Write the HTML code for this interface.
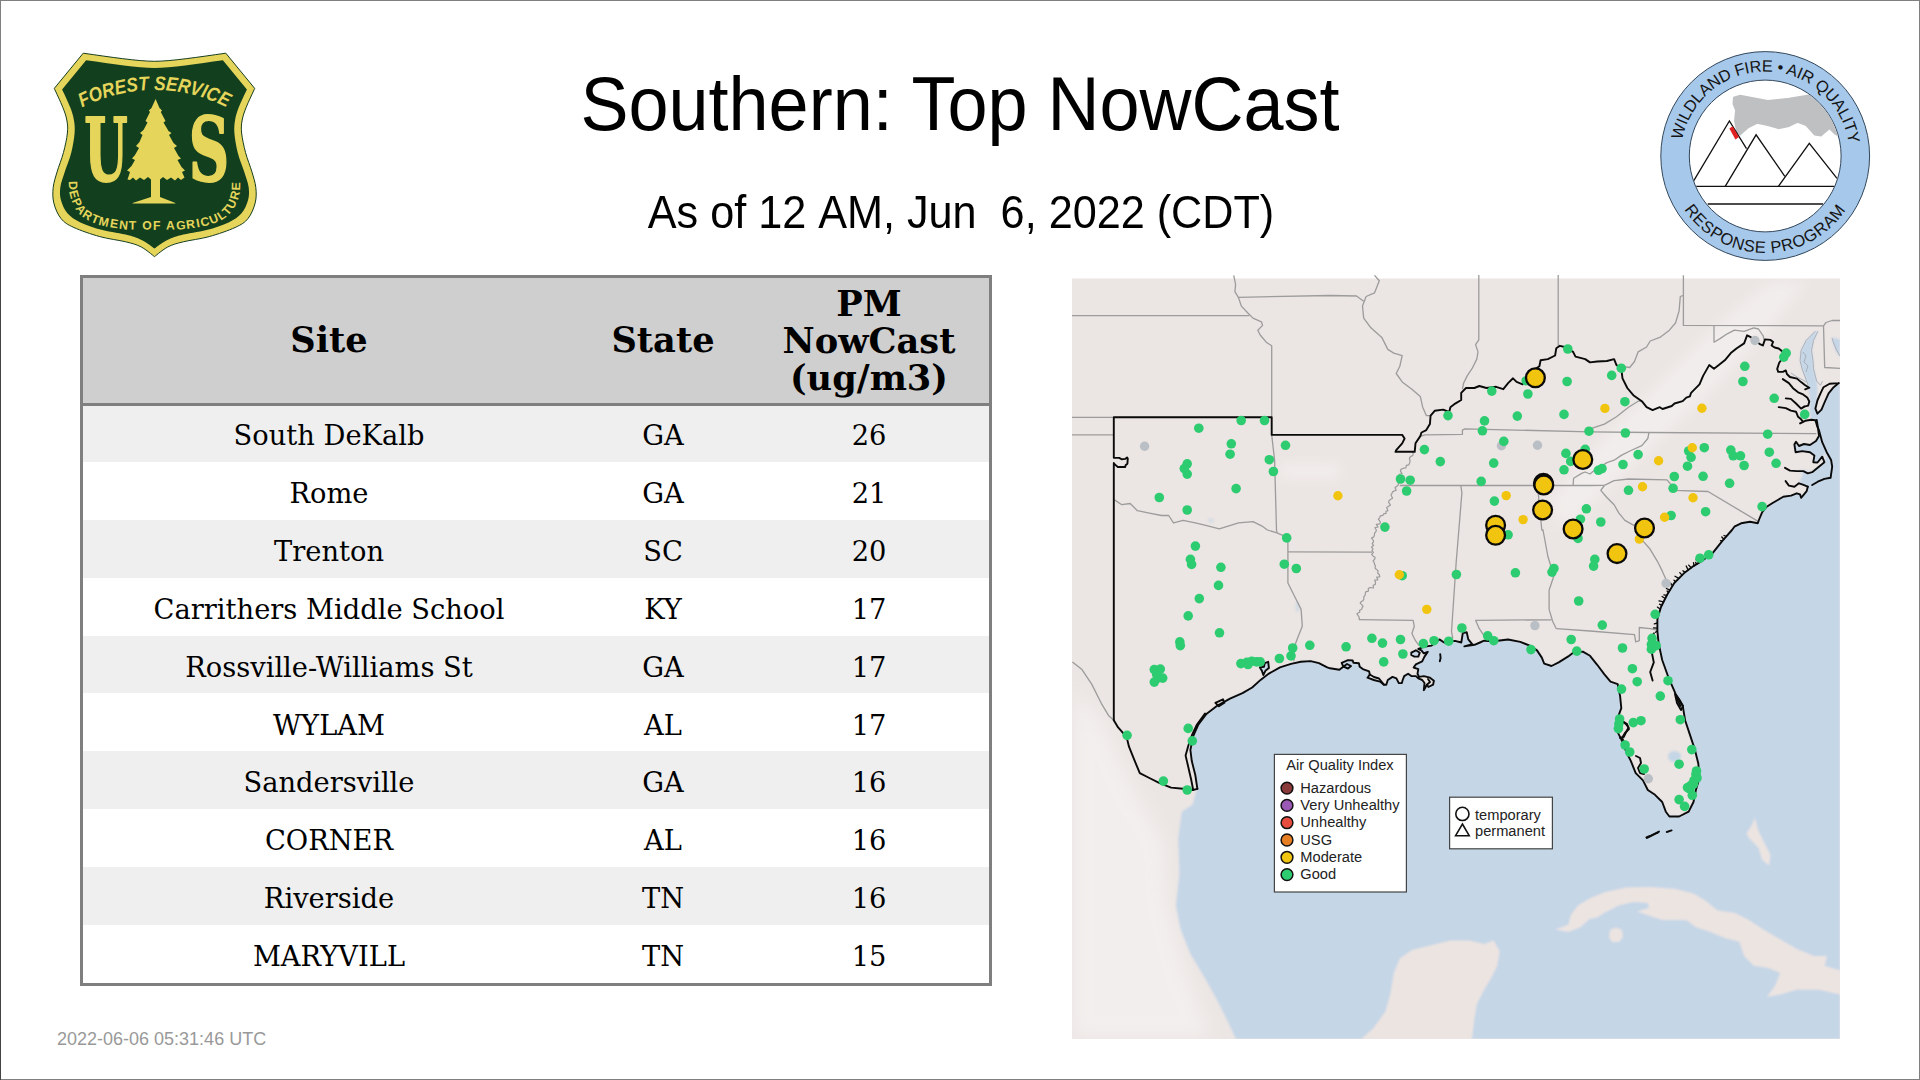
<!DOCTYPE html>
<html lang="en">
<head>
<meta charset="utf-8">
<title>Southern: Top NowCast</title>
<style>
html,body{margin:0;padding:0;background:#fff;}
body{width:1920px;height:1080px;position:relative;overflow:hidden;font-family:"Liberation Sans",sans-serif;}
#frame{position:absolute;left:0;top:0;width:1918px;height:1078px;border:1px solid #808080;border-left-color:#808080;}
#frameL{position:absolute;left:0;top:80px;width:1px;height:1000px;background:#444;}
#title{position:absolute;left:0;top:63px;width:1920px;text-align:center;font-size:72px;line-height:84px;color:#000;white-space:pre;transform:scaleY(1.055);transform-origin:50% 67px;}
#sub{font-kerning:none;position:absolute;left:1px;top:188px;width:1920px;text-align:center;font-size:43.2px;line-height:50px;color:#000;white-space:pre;transform:scaleY(1.055);transform-origin:50% 40px;}
#stamp{position:absolute;left:57px;top:1029px;font-size:18px;line-height:20px;color:#999;white-space:pre;}
#tbl{position:absolute;left:80px;top:275px;width:906px;height:705px;border:3px solid #7f7f7f;background:#fff;font-family:"DejaVu Serif",serif;color:#000;}
#tbl .hd{position:absolute;left:0;top:0;width:906px;height:126px;background:#cfcfcf;}
#tbl .sep{position:absolute;left:0;top:125px;width:906px;height:3px;background:#7f7f7f;}
#tbl .r{position:absolute;left:0;width:906px;height:57.9px;}
#tbl .r.o{background:#efefef;}
#tbl .c{position:absolute;top:0;height:100%;text-align:center;white-space:nowrap;}
#tbl .c1{left:0;width:492px;}
#tbl .hd .c1,#tbl .hd .c2{padding-bottom:3px;box-sizing:border-box;}
#tbl .hd .c3{padding-bottom:2px;box-sizing:border-box;}
#tbl .c2{left:492px;width:176px;}
#tbl .c3{left:668px;width:236px;}
#tbl .r .c{font-size:27.3px;line-height:57.9px;padding-top:3px;}
#tbl .hd .c{font-weight:bold;font-size:35.2px;line-height:37px;display:flex;align-items:center;justify-content:center;}
</style>
</head>
<body>
<div id="frame"></div><div id="frameL"></div>

<div id="title">Southern: Top NowCast</div>
<div id="sub">As of 12 AM, Jun  6, 2022 (CDT)</div>

<div id="tbl">
  <div class="hd">
    <div class="c c1">Site</div>
    <div class="c c2">State</div>
    <div class="c c3">PM<br>NowCast<br>(ug/m3)</div>
  </div>
  <div class="r o" style="top:126px"><div class="c c1">South DeKalb</div><div class="c c2">GA</div><div class="c c3">26</div></div>
  <div class="r" style="top:183.9px"><div class="c c1">Rome</div><div class="c c2">GA</div><div class="c c3">21</div></div>
  <div class="r o" style="top:241.8px"><div class="c c1">Trenton</div><div class="c c2">SC</div><div class="c c3">20</div></div>
  <div class="r" style="top:299.7px"><div class="c c1">Carrithers Middle School</div><div class="c c2">KY</div><div class="c c3">17</div></div>
  <div class="r o" style="top:357.6px"><div class="c c1">Rossville-Williams St</div><div class="c c2">GA</div><div class="c c3">17</div></div>
  <div class="r" style="top:415.5px"><div class="c c1">WYLAM</div><div class="c c2">AL</div><div class="c c3">17</div></div>
  <div class="r o" style="top:473.4px"><div class="c c1">Sandersville</div><div class="c c2">GA</div><div class="c c3">16</div></div>
  <div class="r" style="top:531.3px"><div class="c c1">CORNER</div><div class="c c2">AL</div><div class="c c3">16</div></div>
  <div class="r o" style="top:589.2px"><div class="c c1">Riverside</div><div class="c c2">TN</div><div class="c c3">16</div></div>
  <div class="r" style="top:647.1px"><div class="c c1">MARYVILL</div><div class="c c2">TN</div><div class="c c3">15</div></div>
  <div class="sep"></div>
</div>

<div id="stamp">2022-06-06 05:31:46 UTC</div>

<svg id="map" width="1920" height="1080" viewBox="0 0 1920 1080" style="position:absolute;left:0;top:0">
<defs><clipPath id="mc"><rect x="1072" y="278.5" width="768" height="760.5"/></clipPath><clipPath id="mc2"><rect x="1072" y="275" width="768" height="764"/></clipPath><filter id="bl" x="-5%" y="-5%" width="110%" height="110%"><feGaussianBlur stdDeviation="0.9"/></filter><filter id="bl2" x="-20%" y="-20%" width="140%" height="140%"><feGaussianBlur stdDeviation="4"/></filter></defs>
<rect x="1072" y="278.5" width="768" height="760.5" fill="#ebe5e3"/>
<g clip-path="url(#mc)">
<filter id="rb0" x="-30%" y="-30%" width="160%" height="160%"><feGaussianBlur stdDeviation="9"/></filter>
<polygon points="1072.0,690.0 1100.0,715.0 1135.0,790.0 1165.0,840.0 1168.0,900.0 1183.0,960.0 1212.0,1039.0 1072.0,1039.0" fill="#ffffff" opacity="0.38" filter="url(#rb0)"/>
<filter id="rb1" x="-30%" y="-30%" width="160%" height="160%"><feGaussianBlur stdDeviation="7"/></filter>
<polygon points="1545.0,505.0 1600.0,440.0 1660.0,380.0 1720.0,320.0 1770.0,280.0 1810.0,280.0 1770.0,330.0 1705.0,400.0 1645.0,455.0 1592.0,505.0 1565.0,528.0" fill="#ffffff" opacity="0.32" filter="url(#rb1)"/>
<filter id="rb2" x="-30%" y="-30%" width="160%" height="160%"><feGaussianBlur stdDeviation="6"/></filter>
<polygon points="1280.0,462.0 1340.0,462.0 1340.0,480.0 1280.0,480.0" fill="#ffffff" opacity="0.3" filter="url(#rb2)"/>
<g filter="url(#bl)">
<polygon points="1236.0,1039.0 1226.5,1018.7 1216.9,999.4 1204.8,977.8 1190.4,953.7 1180.7,929.6 1175.9,905.5 1179.5,874.3 1178.3,838.1 1181.9,811.7 1192.8,804.4 1196.5,790.0 1197.4,788.9 1195.3,775.0 1191.8,761.1 1190.4,750.0 1193.2,736.1 1198.1,725.0 1206.4,713.9 1217.5,705.6 1230.0,698.6 1242.5,693.1 1252.2,687.5 1260.6,679.9 1268.9,673.6 1280.0,667.4 1291.1,663.9 1300.8,661.8 1310.6,661.1 1318.9,663.2 1327.2,667.4 1330.0,668.3 1339.4,669.8 1343.3,666.7 1341.7,662.8 1348.0,660.1 1352.7,660.5 1353.4,662.8 1358.9,663.2 1359.7,666.7 1362.8,669.1 1369.1,671.4 1369.8,674.5 1367.5,677.7 1373.8,680.0 1380.0,681.6 1383.9,684.7 1386.3,684.7 1387.8,680.0 1392.5,676.9 1396.4,678.4 1398.8,683.1 1401.9,683.1 1402.7,680.0 1404.2,676.1 1408.1,673.8 1411.3,676.1 1415.9,676.1 1418.3,678.4 1422.2,680.0 1424.5,683.0 1423.8,690.2 1426.9,684.7 1428.4,687.0 1433.1,684.7 1433.9,680.8 1430.0,677.7 1423.8,676.1 1419.1,676.9 1417.5,673.8 1418.3,669.1 1413.6,667.5 1415.9,664.4 1422.2,661.3 1424.5,656.6 1427.7,651.9 1423.8,653.4 1421.4,650.3 1418.3,648.8 1423.8,646.8 1431.6,645.6 1439.4,639.4 1444.1,642.5 1455.0,640.9 1461.3,642.5 1462.8,633.1 1466.7,632.3 1468.3,639.4 1472.2,644.1 1464.4,646.4 1474.5,644.8 1480.0,642.5 1484.1,640.7 1493.7,641.2 1508.1,639.5 1520.2,641.9 1529.8,645.6 1537.0,650.4 1541.8,657.6 1544.2,663.6 1551.5,666.0 1558.7,662.4 1568.3,656.4 1573.1,652.8 1582.8,651.6 1590.0,655.8 1597.2,664.8 1604.4,674.4 1610.5,681.7 1617.7,684.1 1620.1,696.1 1621.3,708.1 1617.7,717.8 1616.5,729.8 1621.3,739.4 1626.1,751.5 1630.9,761.1 1635.7,773.1 1643.0,780.4 1647.8,790.0 1655.0,794.8 1662.2,802.0 1665.8,811.7 1669.4,816.5 1679.1,816.5 1688.7,811.7 1693.5,802.0 1695.9,790.0 1699.5,778.0 1698.3,763.5 1694.7,749.1 1689.9,734.6 1685.1,720.2 1682.7,705.7 1675.5,693.7 1668.2,676.8 1662.2,660.0 1658.6,643.1 1657.4,631.1 1657.4,619.1 1661.0,607.0 1667.0,595.0 1674.3,583.0 1683.9,573.3 1693.5,566.1 1703.1,560.1 1712.8,552.9 1722.4,540.8 1732.0,530.0 1734.4,526.7 1741.1,523.3 1750.0,521.7 1757.8,523.3 1758.9,520.0 1762.2,512.2 1766.7,506.7 1772.2,503.3 1777.8,500.0 1783.3,496.7 1791.1,495.6 1796.7,493.3 1800.0,494.4 1801.1,497.8 1806.7,491.1 1807.8,486.7 1812.2,485.0 1817.8,481.7 1824.4,478.9 1830.6,477.8 1832.2,466.7 1831.1,460.0 1826.7,452.2 1822.2,442.2 1818.9,430.0 1817.4,426.9 1816.7,420.0 1815.4,420.3 1811.3,419.8 1817.4,413.7 1821.5,409.6 1824.5,402.5 1828.6,393.3 1833.7,387.2 1840.0,382.5 1840.0,1039.0" fill="#c5d6e7"/>
<polygon points="1815.4,331.2 1806.2,340.4 1801.1,350.6 1800.1,360.7 1802.1,368.9 1805.2,377.0 1808.2,385.2 1809.8,397.4 1809.8,409.6 1810.8,419.8 1817.9,416.8 1815.9,407.6 1817.6,391.3 1816.6,381.1 1813.5,368.9 1813.0,360.7 1811.5,350.6 1813.5,340.4 1817.9,331.2" fill="#c5d6e7"/>
<polygon points="1807.8,486.7 1802.0,484.5 1798.9,483.3 1803.3,473.3 1796.7,471.1 1803.0,470.0 1812.2,472.2 1818.9,466.7 1824.4,462.2 1826.7,452.2 1831.1,460.0 1832.2,466.7 1830.6,477.8 1824.4,478.9 1817.8,481.7 1812.2,485.0" fill="#c5d6e7"/>
<polygon points="1796.0,441.7 1799.0,446.0 1804.0,444.0 1810.0,445.0 1816.0,441.0 1819.0,436.0 1817.5,424.0 1818.9,430.0 1822.2,442.2 1826.7,452.2 1822.2,456.7 1817.5,462.5 1813.3,462.2 1814.4,455.6 1810.0,452.2 1802.2,451.1 1795.6,452.2 1794.4,444.4" fill="#c5d6e7"/>
<polygon points="1831.7,337.3 1840.0,339.5 1840.0,357.0 1835.7,350.6 1833.2,343.4" fill="#c5d6e7"/>
<polygon points="1411.3,652.7 1415.9,650.3 1419.8,652.7 1418.3,656.6 1414.4,656.6 1411.3,655.0" fill="#c5d6e7"/>
<polygon points="1259.9,667.4 1261.9,670.8 1263.3,675.0 1265.4,670.8 1268.9,668.1 1268.2,661.8 1264.7,663.2 1264.0,666.7" fill="#c5d6e7"/>
<polygon points="1361.3,1039.0 1373.3,1028.3 1385.4,1011.5 1390.2,994.6 1393.8,973.0 1399.8,958.5 1411.9,950.1 1431.1,945.3 1450.4,940.5 1469.6,940.5 1484.1,944.1 1493.7,940.5 1499.7,951.3 1497.3,965.7 1491.3,977.8 1484.1,989.8 1476.8,1004.2 1474.4,1018.7 1472.0,1039.0" fill="#ece4e1"/>
<polygon points="1555.1,929.6 1568.3,924.8 1570.7,915.2 1577.9,905.5 1590.0,898.3 1604.4,892.3 1626.1,887.5 1650.2,887.0 1674.3,888.7 1693.5,893.5 1705.6,900.7 1717.6,910.4 1734.4,912.8 1748.9,920.0 1763.3,929.6 1780.2,939.3 1797.0,948.9 1813.9,956.1 1827.1,956.1 1824.7,965.7 1840.0,970.6 1840.0,994.6 1818.7,989.8 1797.0,989.8 1780.2,994.6 1766.9,997.0 1775.4,985.0 1780.2,973.0 1768.1,968.1 1753.7,965.7 1744.1,956.1 1739.3,941.7 1724.8,938.1 1710.4,932.0 1695.9,927.2 1686.3,920.0 1662.2,920.0 1647.8,915.2 1636.9,911.6 1649.0,908.0 1647.8,903.1 1633.3,901.9 1618.9,905.5 1604.4,912.8 1597.2,917.6 1590.0,918.8 1580.4,927.2 1568.3,932.0" fill="#ece4e1"/>
<polygon points="1754.9,817.7 1758.5,830.9 1765.7,845.4 1770.5,855.0 1769.3,865.8 1762.1,859.8 1758.5,847.8 1748.9,838.1 1746.5,833.3 1751.3,826.1" fill="#ece4e1"/>
<polygon points="1610.0,930.0 1616.0,927.5 1622.0,930.0 1623.0,937.0 1619.0,942.0 1612.0,942.0 1609.0,937.0" fill="#ece4e1"/>
<ellipse cx="1674.5" cy="756.5" rx="6.5" ry="5.5" fill="#c5d6e7" opacity="1"/>
<ellipse cx="1210.8" cy="520.4" rx="3" ry="2" fill="#c5d6e7" opacity="0.6"/>
<ellipse cx="1297.5" cy="607" rx="2" ry="5" fill="#c5d6e7" opacity="0.6"/>
</g>
</g>
<g clip-path="url(#mc2)" fill="none" stroke="#9c9c9c" stroke-width="1.3" stroke-linejoin="round">
<polyline points="1072.0,315.7 1249.3,315.7"/>
<polyline points="1233.7,275.3 1235.6,284.4 1234.9,291.7 1238.5,297.7 1241.4,306.1 1248.1,313.3 1253.0,318.1 1261.4,321.8 1262.6,325.4 1257.8,330.2 1260.2,335.0 1266.2,342.2 1271.7,345.8 1271.7,417.3"/>
<polyline points="1238.5,297.3 1330.0,295.5 1356.5,296.0 1363.7,301.3"/>
<polyline points="1072.0,417.3 1113.3,417.3"/>
<polyline points="1072.0,434.9 1113.3,434.9"/>
<polyline points="1271.7,434.9 1274.6,460.2 1276.5,530.0 1277.0,532.9"/>
<polyline points="1114.5,499.9 1121.8,504.7 1130.2,503.5 1137.4,510.7 1149.4,513.1 1161.5,515.5 1168.7,515.5 1173.5,522.8 1183.1,520.4 1195.2,522.8 1204.8,525.2 1219.3,528.8 1238.5,522.8 1253.0,521.6 1262.6,526.4 1267.4,530.0 1277.0,532.9 1286.7,537.2 1287.9,538.0"/>
<polyline points="1287.9,537.0 1287.9,583.0 1293.9,595.0 1301.1,609.4 1302.3,626.3 1297.5,638.3 1293.9,648.0 1293.9,661.2"/>
<polyline points="1287.9,551.9 1372.1,552.1"/>
<polyline points="1374.5,275.3 1379.3,280.8 1374.5,292.9 1366.1,296.5 1362.5,306.1 1363.7,318.1 1370.9,327.8 1381.8,337.4 1387.8,349.4 1393.8,353.1 1402.2,355.5 1399.8,366.3 1396.2,373.5 1402.2,381.9 1411.9,389.2 1420.3,396.4 1422.7,407.2 1426.3,415.6 1430.6,415.6"/>
<polyline points="1478.8,275.0 1478.8,339.8 1475.6,344.6 1478.0,351.9 1476.8,359.1 1472.0,368.7 1467.2,375.9 1463.6,383.1 1462.4,389.2"/>
<polyline points="1558.2,275.0 1558.2,346.0"/>
<polyline points="1421.0,436.0 1425.1,434.9 1462.4,434.4 1462.4,430.1 1464.8,428.9 1590.0,431.8 1649.0,432.5 1816.3,433.7"/>
<polyline points="1399.8,485.5 1590.0,485.5 1604.4,485.3"/>
<polyline points="1460.8,485.5 1461.9,492.6 1456.2,562.0 1451.5,631.5 1452.8,638.3"/>
<polyline points="1537.5,485.5 1541.8,530.0 1543.0,530.0 1547.9,556.5 1553.9,575.7 1549.1,590.2 1549.1,609.4 1552.7,621.5 1556.3,628.7"/>
<polyline points="1358.9,619.6 1413.1,620.3 1414.3,626.3 1411.9,633.5 1415.5,640.7 1419.1,645.6"/>
<polyline points="1486.5,640.7 1484.1,635.9 1479.3,628.7 1475.6,620.3 1551.5,619.8"/>
<polyline points="1556.3,628.7 1590.0,631.0 1634.5,634.7 1635.7,641.9 1639.3,640.7 1639.3,627.5 1650.2,628.7 1657.0,630.0"/>
<polyline points="1573.1,485.5 1573.6,478.2 1581.6,473.4 1585.0,472.0 1590.0,474.0 1593.6,471.0 1599.6,467.4 1606.9,462.6 1614.1,460.2 1621.3,455.4 1630.9,450.5 1641.8,445.7 1647.8,438.5 1649.0,432.5"/>
<polyline points="1590.0,428.9 1604.4,424.1 1616.5,416.8 1628.5,407.2 1638.1,401.2 1641.8,401.2"/>
<polyline points="1604.4,485.3 1614.1,480.6 1628.5,479.0 1667.0,479.9 1670.6,484.2 1674.3,490.3 1708.0,491.5 1758.5,521.6"/>
<polyline points="1604.4,485.5 1600.8,490.3 1606.9,497.5 1614.1,504.7 1618.9,513.1 1624.9,520.4 1635.7,526.4 1641.8,539.6 1650.2,549.3 1657.4,561.3 1662.2,570.9 1667.0,581.8 1672.0,586.0"/>
<polyline points="1683.4,275.3 1683.4,325.4 1823.5,325.8"/>
<polyline points="1823.5,325.8 1826.0,322.5 1832.0,320.5 1840.0,320.5"/>
<polyline points="1823.5,325.8 1824.7,367.5 1840.0,368.3"/>
<polyline points="1621.3,366.3 1629.7,367.5 1634.5,361.5 1638.1,351.9 1646.6,347.0 1650.2,341.0 1659.8,337.4 1669.4,330.2 1675.5,323.0 1679.1,310.9 1680.3,296.5 1683.4,295.3"/>
<polyline points="1714.0,325.8 1714.0,342.2 1720.0,338.6 1727.2,333.8 1734.4,330.2 1744.1,331.4 1753.7,327.8 1758.5,329.0 1763.3,336.2 1764.0,340.0"/>
<polyline points="1072.4,661.9 1082.0,669.6 1091.7,684.1 1101.3,703.3 1108.5,715.4 1113.8,720.2"/>
<polyline points="1815.4,331.2 1806.2,340.4 1801.1,350.6 1800.1,360.7 1802.1,368.9 1805.2,377.0 1808.2,385.2" stroke="#a4acb4" stroke-width="0.9"/>
<polyline points="1817.9,331.2 1813.5,340.4 1811.5,350.6 1813.0,360.7 1813.5,368.9 1816.6,381.1 1820.5,385.2 1822.5,381.1" stroke="#a4acb4" stroke-width="0.9"/>
<polyline points="1790.9,373.0 1797.0,377.0 1803.1,380.1 1806.2,382.1" stroke="#a4acb4" stroke-width="0.9"/>
<polyline points="1803.0,352.0 1806.0,356.0 1804.0,362.0 1808.0,366.0 1806.0,372.0" stroke="#a4acb4" stroke-width="0.9"/>
<polyline points="1832.0,338.0 1834.0,344.0 1836.5,350.0 1840.0,356.0" stroke="#a4acb4" stroke-width="0.9"/>
<polyline points="1412.6,451.0 1413.2,453.5 1412.8,455.5 1410.5,456.6 1409.4,458.3 1410.0,460.7 1409.7,462.9 1408.8,464.8 1406.3,465.3 1406.0,467.8 1403.5,468.2 1400.9,469.4 1400.4,471.1 1402.0,473.5 1399.2,474.5 1400.8,476.9 1398.4,478.0 1399.8,480.3 1400.2,482.4 1398.3,483.5 1398.2,485.3 1396.4,486.5 1395.0,487.8 1396.2,490.1 1394.2,491.0 1392.5,491.9 1391.9,493.6 1391.0,495.0 1392.6,498.2 1391.2,499.0 1389.1,500.5 1388.6,502.4 1390.4,504.9 1388.2,506.4 1386.7,507.5 1387.9,510.6 1386.0,511.2 1386.0,513.4 1383.7,513.8 1382.9,515.4 1380.5,515.8 1379.7,517.6 1378.4,519.1 1380.3,521.9 1380.1,523.8 1376.3,524.3 1378.1,527.0 1375.0,527.7 1376.4,530.2 1375.7,531.9 1374.5,533.4 1374.4,535.2 1373.8,536.9 1371.5,538.1 1373.4,540.5 1373.5,541.9 1372.2,543.7 1373.6,545.3 1371.5,547.3 1373.0,548.9 1371.9,550.7 1373.5,552.3 1371.6,554.3 1373.0,555.9 1375.2,557.4 1374.6,559.2 1373.1,561.0 1374.3,562.7 1374.5,564.4 1375.4,565.6 1375.1,568.0 1376.4,569.5 1378.1,570.7 1377.7,573.2 1379.3,574.5 1379.8,576.8 1376.7,577.1 1377.8,579.8 1374.7,580.1 1375.5,582.5 1375.3,584.4 1373.2,585.3 1373.4,588.0 1370.0,587.5 1368.3,588.5 1368.4,591.1 1365.6,591.8 1365.3,593.6 1365.0,595.5 1363.7,596.8 1363.9,598.9 1363.2,600.5 1361.2,601.7 1360.2,603.2 1363.1,606.1 1362.1,607.6 1361.7,609.3 1359.6,610.3 1359.8,611.9 1357.0,613.8 1358.3,615.8 1359.4,617.7 1358.9,619.6" stroke-width="1.2"/>
</g>
<g clip-path="url(#mc)" fill="none" stroke="#0a0a0a" stroke-width="1.9" stroke-linejoin="round" stroke-linecap="round">
<polyline points="1113.8,720.2 1113.8,463.0 1114.8,464.4 1117.8,467.0 1125.2,467.0 1125.6,465.2 1127.4,463.7 1127.8,458.5 1127.0,457.4 1125.2,458.9 1121.5,459.3 1119.3,457.9 1113.8,457.8 1113.8,417.3 1271.7,417.3 1271.7,434.9 1402.2,434.9 1404.6,438.5 1402.2,443.3 1396.2,450.1 1395.5,451.8 1414.7,451.8 1415.5,443.3 1420.3,436.1 1421.5,432.5 1426.3,430.1 1429.9,424.1 1430.6,415.6 1434.7,410.8 1443.1,409.6 1449.2,412.0 1450.4,407.2 1455.2,403.6 1461.2,400.0 1461.2,392.8 1466.0,388.0 1474.4,388.0 1479.3,386.0 1486.5,388.0 1496.1,386.8 1503.3,389.2 1508.1,383.1 1513.0,378.3 1516.6,381.9 1522.6,384.3 1526.2,377.1 1532.2,371.1 1539.4,366.3 1540.6,360.3 1547.9,359.1 1555.1,355.5 1556.3,348.2 1559.9,345.8 1564.7,347.0 1573.1,351.9 1575.5,356.7 1585.2,359.1 1590.0,362.4 1597.2,361.5 1606.9,361.0 1614.1,359.1 1616.5,365.1 1621.3,368.7 1622.5,378.3 1627.3,388.0 1633.3,395.2 1641.8,401.2 1646.6,407.2 1652.6,410.1 1659.8,407.2 1662.5,409.0 1671.8,406.0 1674.5,403.5 1682.7,401.2 1686.3,397.6 1689.9,396.4 1691.1,392.8 1699.5,384.3 1703.1,375.9 1709.2,365.1 1714.0,368.7 1718.8,365.1 1724.8,360.3 1730.8,353.1 1736.8,348.2 1744.1,343.4 1747.1,335.3 1750.2,336.8 1753.0,339.0 1760.4,344.4 1762.9,345.5 1765.0,339.4 1770.6,339.9 1773.1,341.9 1771.6,345.5 1774.6,347.5 1778.7,348.5 1781.8,351.1 1785.0,355.0 1779.2,362.8 1777.2,368.9 1778.2,371.9 1782.8,371.9 1785.8,370.4 1786.9,374.0 1789.9,377.0 1797.0,378.6 1801.1,382.1 1805.2,385.2 1809.3,387.7 1805.2,389.3"/>
<polyline points="1782.8,379.1 1788.9,383.1 1793.0,388.2 1798.1,392.3 1803.1,394.4 1807.2,397.4 1809.3,401.5 1808.2,405.6 1804.2,406.6"/>
<polyline points="1785.8,398.4 1790.9,398.9 1796.0,403.5 1801.1,408.6 1804.2,406.6"/>
<polyline points="1778.7,407.1 1785.8,408.1 1790.9,410.6 1796.0,411.7 1798.1,416.8 1801.1,419.3 1803.1,421.9 1800.1,423.4 1805.2,420.8 1811.3,419.8 1815.4,420.3 1817.4,426.9 1818.9,430.0 1822.2,442.2 1826.7,452.2 1831.1,460.0 1832.2,466.7 1830.6,477.8 1824.4,478.9 1817.8,481.7 1812.2,485.0"/>
<polyline points="1838.8,383.1 1829.6,383.7 1823.5,387.2 1820.5,393.3 1817.4,400.5 1815.4,408.6 1817.4,413.7 1821.5,409.6 1824.5,402.5 1828.6,393.3 1833.7,387.2 1838.8,383.1"/>
<polyline points="1816.7,420.0 1818.0,428.0 1819.0,436.0 1816.0,441.0 1810.0,445.0 1804.0,444.0 1799.0,446.0 1796.0,441.7 1794.4,444.4 1795.6,452.2 1802.2,451.1 1810.0,452.2 1814.4,455.6 1813.3,462.2 1817.5,462.5 1822.2,456.7 1824.4,462.2 1818.9,466.7 1812.2,472.2 1807.8,473.3 1803.3,471.1 1796.7,471.1 1790.0,470.6 1785.0,467.8"/>
<polyline points="1785.6,481.1 1788.9,485.6 1794.4,486.7 1798.9,483.3 1802.2,484.4 1807.8,486.7"/>
<polyline points="1197.4,788.9 1195.3,775.0 1191.8,761.1 1190.4,750.0 1193.2,736.1 1198.1,725.0 1206.4,713.9 1217.5,705.6 1230.0,698.6 1242.5,693.1 1252.2,687.5 1260.6,679.9 1268.9,673.6 1280.0,667.4 1291.1,663.9 1300.8,661.8 1310.6,661.1 1318.9,663.2 1327.2,667.4 1330.0,668.3 1339.4,669.8 1343.3,666.7 1341.7,662.8 1348.0,660.1 1352.7,660.5 1353.4,662.8 1358.9,663.2 1359.7,666.7 1362.8,669.1 1369.1,671.4 1369.8,674.5 1367.5,677.7 1373.8,680.0 1380.0,681.6 1383.9,684.7 1386.3,684.7 1387.8,680.0 1392.5,676.9 1396.4,678.4 1398.8,683.1 1401.9,683.1 1402.7,680.0 1404.2,676.1 1408.1,673.8 1411.3,676.1 1415.9,676.1 1418.3,678.4 1422.2,680.0 1424.5,683.0 1423.8,690.2 1426.9,684.7 1428.4,687.0 1433.1,684.7 1433.9,680.8 1430.0,677.7 1423.8,676.1 1419.1,676.9 1417.5,673.8 1418.3,669.1 1413.6,667.5 1415.9,664.4 1422.2,661.3 1424.5,656.6 1427.7,651.9 1423.8,653.4 1421.4,650.3 1418.3,648.8 1423.8,646.8 1431.6,645.6 1439.4,639.4 1444.1,642.5 1455.0,640.9 1461.3,642.5 1462.8,633.1 1466.7,632.3 1468.3,639.4 1472.2,644.1 1464.4,646.4 1474.5,644.8 1480.0,642.5 1484.1,640.7 1493.7,641.2 1508.1,639.5 1520.2,641.9 1529.8,645.6 1537.0,650.4 1541.8,657.6 1544.2,663.6 1551.5,666.0 1558.7,662.4 1568.3,656.4 1573.1,652.8 1582.8,651.6 1590.0,655.8 1597.2,664.8 1604.4,674.4 1610.5,681.7 1617.7,684.1 1620.1,696.1 1621.3,708.1 1617.7,717.8 1616.5,729.8 1621.3,739.4 1626.1,751.5 1630.9,761.1 1635.7,773.1 1643.0,780.4 1647.8,790.0 1655.0,794.8 1662.2,802.0 1665.8,811.7 1669.4,816.5 1679.1,816.5 1688.7,811.7 1693.5,802.0 1695.9,790.0 1699.5,778.0 1698.3,763.5 1694.7,749.1 1689.9,734.6 1685.1,720.2 1682.7,705.7 1675.5,693.7 1668.2,676.8 1662.2,660.0 1658.6,643.1 1657.4,631.1 1657.4,619.1 1661.0,607.0 1667.0,595.0 1674.3,583.0 1683.9,573.3 1693.5,566.1 1703.1,560.1 1712.8,552.9 1722.4,540.8 1732.0,530.0 1734.4,526.7 1741.1,523.3 1750.0,521.7 1757.8,523.3 1758.9,520.0 1762.2,512.2 1766.7,506.7 1772.2,503.3 1777.8,500.0 1783.3,496.7 1791.1,495.6 1796.7,493.3 1800.0,494.4 1801.1,497.8 1806.7,491.1 1807.8,486.7"/>
<polyline points="1197.4,788.9 1192.8,790.0 1183.1,788.8 1171.1,787.6 1159.1,782.8 1149.4,778.0 1139.8,773.1 1133.8,758.7 1129.0,746.7 1126.6,737.0 1118.1,727.4 1113.8,720.2"/>
<polyline points="1653.8,633.5 1651.4,650.4 1653.8,662.4 1650.2,672.0 1652.6,680.5"/>
<polyline points="1617.7,719.0 1624.9,722.6 1628.5,727.4 1623.7,737.0 1620.0,738.0"/>
<polyline points="1259.9,667.4 1261.9,670.8 1263.3,675.0 1265.4,670.8 1268.9,668.1 1268.2,661.8 1264.7,663.2 1264.0,666.7 1259.9,667.4"/>
<polyline points="1215.4,702.8 1223.0,699.3 1224.4,702.8 1218.9,706.3 1215.4,702.8"/>
<polyline points="1193.2,790.0 1191.1,779.2 1186.9,761.1 1185.6,755.6 1188.3,745.8 1192.0,735.0 1197.0,724.5 1205.0,713.5"/>
<polyline points="1411.3,652.7 1415.9,650.3 1419.8,652.7 1418.3,656.6 1414.4,656.6 1411.3,655.0 1411.3,652.7"/>
<polyline points="1440.2,654.2 1440.6,658.0 1439.8,661.3"/>
<polyline points="1343.3,666.7 1347.0,664.0 1351.0,666.0 1348.0,668.5 1343.3,666.7"/>
<polyline points="1369.8,674.5 1374.0,677.0 1379.0,678.5 1383.9,684.7"/>
<polyline points="1426.9,684.7 1430.0,682.0 1428.0,679.0"/>
<polyline points="1646.4,837.4 1650.0,836.0 1654.0,834.0 1659.0,831.6"/>
<polyline points="1647.0,838.0 1652.0,835.5 1658.0,832.5"/>
<polyline points="1666.8,832.0 1671.6,830.4"/>
<polyline points="1636.0,756.0 1640.0,758.0 1641.0,763.0 1638.0,768.0 1640.0,773.0 1644.0,774.0"/>
<polyline points="1622.0,722.0 1627.0,724.0 1629.0,729.0 1625.0,733.0 1622.0,738.0 1624.0,742.0"/>
<polyline points="1675.0,694.0 1679.0,699.0 1683.0,706.0 1681.0,710.0 1677.0,703.0 1675.0,694.0"/>
<polyline points="1676.5,698.0 1680.5,706.0"/>
<g stroke-width="1.3"><polyline points="1657.4,631.1 1655.4,632.3"/><polyline points="1657.4,628.2 1653.5,627.8"/><polyline points="1657.4,623.0 1654.3,623.8"/><polyline points="1657.7,618.0 1655.7,616.6"/><polyline points="1659.1,613.5 1654.9,612.7"/><polyline points="1660.3,609.3 1657.4,607.1"/><polyline points="1661.8,605.4 1659.5,604.2"/><polyline points="1663.6,601.8 1659.0,600.9"/><polyline points="1665.2,598.5 1662.1,596.5"/><polyline points="1666.8,595.4 1663.9,594.9"/><polyline points="1668.4,592.7 1667.1,591.0"/><polyline points="1669.9,590.2 1666.4,588.5"/><polyline points="1672.6,585.7 1670.6,583.1"/><polyline points="1675.5,581.8 1673.9,580.1"/><polyline points="1678.8,578.4 1675.0,576.3"/><polyline points="1682.0,575.2 1679.8,572.6"/><polyline points="1685.1,572.4 1682.9,570.8"/><polyline points="1688.2,570.1 1686.2,566.0"/><polyline points="1691.2,567.8 1688.7,565.1"/><polyline points="1694.0,565.8 1693.5,562.7"/><polyline points="1696.7,564.1 1695.6,562.4"/><polyline points="1699.2,562.5 1696.0,559.8"/><polyline points="1722.4,540.8 1720.5,540.7"/><polyline points="1723.8,539.2 1721.8,537.0"/><polyline points="1726.2,536.4 1724.0,535.5"/></g>
</g>
<g clip-path="url(#mc)">
<g fill="#b9bfc5"><circle cx="1144.6" cy="446.2" r="4.7"/><circle cx="1501.4" cy="445.7" r="4.7"/><circle cx="1537.5" cy="445.3" r="4.7"/><circle cx="1754.9" cy="340.5" r="4.7"/><circle cx="1534.9" cy="625.6" r="4.7"/><circle cx="1666.1" cy="583.4" r="4.7"/><circle cx="1648.3" cy="778.7" r="4.7"/></g>
<g fill="#2ecc71"><circle cx="1198.8" cy="428.2" r="4.8"/><circle cx="1241.2" cy="420.5" r="4.8"/><circle cx="1264.5" cy="420.5" r="4.8"/><circle cx="1285.5" cy="445.3" r="4.8"/><circle cx="1231.3" cy="443.8" r="4.8"/><circle cx="1230.1" cy="454.2" r="4.8"/><circle cx="1269.3" cy="459.7" r="4.8"/><circle cx="1273.4" cy="471.5" r="4.8"/><circle cx="1187.2" cy="463.8" r="4.8"/><circle cx="1184.3" cy="468.6" r="4.8"/><circle cx="1187.2" cy="474.1" r="4.8"/><circle cx="1236.1" cy="488.6" r="4.8"/><circle cx="1159.3" cy="497.5" r="4.8"/><circle cx="1187.2" cy="510" r="4.8"/><circle cx="1567.8" cy="349" r="4.8"/><circle cx="1567.1" cy="381.5" r="4.8"/><circle cx="1526.2" cy="380.7" r="4.8"/><circle cx="1527.9" cy="394" r="4.8"/><circle cx="1491.8" cy="391.1" r="4.8"/><circle cx="1448" cy="415.6" r="4.8"/><circle cx="1484.5" cy="420.9" r="4.8"/><circle cx="1482.4" cy="430.8" r="4.8"/><circle cx="1517.3" cy="416.1" r="4.8"/><circle cx="1564" cy="414.4" r="4.8"/><circle cx="1589" cy="431.2" r="4.8"/><circle cx="1503.8" cy="441.4" r="4.8"/><circle cx="1424.4" cy="449.6" r="4.8"/><circle cx="1440.3" cy="461.6" r="4.8"/><circle cx="1493.7" cy="463.1" r="4.8"/><circle cx="1565.9" cy="453.4" r="4.8"/><circle cx="1570.7" cy="461.4" r="4.8"/><circle cx="1564" cy="469.8" r="4.8"/><circle cx="1585.2" cy="449.3" r="4.8"/><circle cx="1400.5" cy="479" r="4.8"/><circle cx="1410.2" cy="480.2" r="4.8"/><circle cx="1406.6" cy="491" r="4.8"/><circle cx="1481.2" cy="481.4" r="4.8"/><circle cx="1494.4" cy="501.1" r="4.8"/><circle cx="1586.4" cy="508.8" r="4.8"/><circle cx="1580.4" cy="519.2" r="4.8"/><circle cx="1384.9" cy="527.1" r="4.8"/><circle cx="1621.3" cy="368.2" r="4.8"/><circle cx="1611.7" cy="375.4" r="4.8"/><circle cx="1624.9" cy="401.7" r="4.8"/><circle cx="1625.4" cy="433" r="4.8"/><circle cx="1744.8" cy="366.3" r="4.8"/><circle cx="1742.9" cy="381.5" r="4.8"/><circle cx="1786.2" cy="353.1" r="4.8"/><circle cx="1783.8" cy="357.1" r="4.8"/><circle cx="1774.2" cy="398.3" r="4.8"/><circle cx="1804.7" cy="414.4" r="4.8"/><circle cx="1767.7" cy="434.2" r="4.8"/><circle cx="1769.3" cy="452.2" r="4.8"/><circle cx="1776.1" cy="463.3" r="4.8"/><circle cx="1704.3" cy="447.7" r="4.8"/><circle cx="1688.7" cy="451" r="4.8"/><circle cx="1691.1" cy="457.3" r="4.8"/><circle cx="1687.5" cy="466.2" r="4.8"/><circle cx="1730.8" cy="450.1" r="4.8"/><circle cx="1733.2" cy="455.8" r="4.8"/><circle cx="1740.5" cy="455.8" r="4.8"/><circle cx="1744.1" cy="465.5" r="4.8"/><circle cx="1638.1" cy="454.6" r="4.8"/><circle cx="1623" cy="464.5" r="4.8"/><circle cx="1602" cy="468.6" r="4.8"/><circle cx="1598.4" cy="470.3" r="4.8"/><circle cx="1674.3" cy="476.5" r="4.8"/><circle cx="1703.1" cy="476.3" r="4.8"/><circle cx="1729.6" cy="483.3" r="4.8"/><circle cx="1673.1" cy="488.3" r="4.8"/><circle cx="1628.5" cy="490.3" r="4.8"/><circle cx="1762.1" cy="506.6" r="4.8"/><circle cx="1705.6" cy="511.7" r="4.8"/><circle cx="1671.1" cy="515.5" r="4.8"/><circle cx="1600.8" cy="522" r="4.8"/><circle cx="1286.7" cy="537.9" r="4.8"/><circle cx="1195.4" cy="546.1" r="4.8"/><circle cx="1190.4" cy="559.4" r="4.8"/><circle cx="1191.6" cy="564.4" r="4.8"/><circle cx="1220.9" cy="567.3" r="4.8"/><circle cx="1284.3" cy="564.2" r="4.8"/><circle cx="1296.3" cy="568.5" r="4.8"/><circle cx="1218.5" cy="585.4" r="4.8"/><circle cx="1199.3" cy="598.6" r="4.8"/><circle cx="1188.2" cy="615.9" r="4.8"/><circle cx="1219.5" cy="632.8" r="4.8"/><circle cx="1179.8" cy="641.9" r="4.8"/><circle cx="1180.3" cy="645.6" r="4.8"/><circle cx="1309.8" cy="645.3" r="4.8"/><circle cx="1292.7" cy="648" r="4.8"/><circle cx="1291" cy="655.9" r="4.8"/><circle cx="1279.4" cy="658.5" r="4.8"/><circle cx="1240.9" cy="663.6" r="4.8"/><circle cx="1246.9" cy="662.4" r="4.8"/><circle cx="1251.8" cy="661.2" r="4.8"/><circle cx="1256.6" cy="661.9" r="4.8"/><circle cx="1260.2" cy="661.9" r="4.8"/><circle cx="1248" cy="664.5" r="4.8"/><circle cx="1154.3" cy="669.6" r="4.8"/><circle cx="1160.3" cy="669.1" r="4.8"/><circle cx="1156.7" cy="674.4" r="4.8"/><circle cx="1162.7" cy="678.1" r="4.8"/><circle cx="1154.3" cy="682.1" r="4.8"/><circle cx="1158" cy="678" r="4.8"/><circle cx="1188.2" cy="728.4" r="4.8"/><circle cx="1192.3" cy="740.9" r="4.8"/><circle cx="1127.1" cy="735.3" r="4.8"/><circle cx="1163.4" cy="781.1" r="4.8"/><circle cx="1187.2" cy="790" r="4.8"/><circle cx="1456.4" cy="574.5" r="4.8"/><circle cx="1515.4" cy="572.8" r="4.8"/><circle cx="1553.9" cy="568.5" r="4.8"/><circle cx="1552" cy="572.1" r="4.8"/><circle cx="1578.7" cy="601" r="4.8"/><circle cx="1461.9" cy="628" r="4.8"/><circle cx="1487.7" cy="635.9" r="4.8"/><circle cx="1493.7" cy="640.7" r="4.8"/><circle cx="1531" cy="649.6" r="4.8"/><circle cx="1571.2" cy="639.5" r="4.8"/><circle cx="1576.8" cy="651.1" r="4.8"/><circle cx="1371.9" cy="638.3" r="4.8"/><circle cx="1382.5" cy="643.1" r="4.8"/><circle cx="1400.5" cy="639.5" r="4.8"/><circle cx="1346.1" cy="646.8" r="4.8"/><circle cx="1402.9" cy="654" r="4.8"/><circle cx="1383.7" cy="661.9" r="4.8"/><circle cx="1423.4" cy="643.6" r="4.8"/><circle cx="1434" cy="640.7" r="4.8"/><circle cx="1448.7" cy="641.2" r="4.8"/><circle cx="1402.2" cy="575.7" r="4.8"/><circle cx="1508.1" cy="534.8" r="4.8"/><circle cx="1578" cy="538.4" r="4.8"/><circle cx="1708.7" cy="554.8" r="4.8"/><circle cx="1700" cy="558.2" r="4.8"/><circle cx="1594.8" cy="559.4" r="4.8"/><circle cx="1593.6" cy="566.1" r="4.8"/><circle cx="1655.2" cy="614.3" r="4.8"/><circle cx="1602.3" cy="625.1" r="4.8"/><circle cx="1622.5" cy="648" r="4.8"/><circle cx="1652.1" cy="638.3" r="4.8"/><circle cx="1651.4" cy="644.3" r="4.8"/><circle cx="1656.2" cy="645.6" r="4.8"/><circle cx="1651.4" cy="649.2" r="4.8"/><circle cx="1632.4" cy="668.7" r="4.8"/><circle cx="1637.2" cy="681.7" r="4.8"/><circle cx="1621.5" cy="689.1" r="4.8"/><circle cx="1668" cy="680.7" r="4.8"/><circle cx="1660.3" cy="696.1" r="4.8"/><circle cx="1680.3" cy="719.7" r="4.8"/><circle cx="1619.6" cy="719" r="4.8"/><circle cx="1618.9" cy="723.8" r="4.8"/><circle cx="1618.4" cy="728.6" r="4.8"/><circle cx="1633.3" cy="722.6" r="4.8"/><circle cx="1641" cy="720.7" r="4.8"/><circle cx="1625.1" cy="745" r="4.8"/><circle cx="1629.7" cy="752" r="4.8"/><circle cx="1644.2" cy="769" r="4.8"/><circle cx="1691.8" cy="749.6" r="4.8"/><circle cx="1679.1" cy="764.2" r="4.8"/><circle cx="1695.9" cy="774.3" r="4.8"/><circle cx="1694" cy="780.4" r="4.8"/><circle cx="1691.1" cy="785.2" r="4.8"/><circle cx="1687.5" cy="787.6" r="4.8"/><circle cx="1697" cy="778" r="4.8"/><circle cx="1693.5" cy="784" r="4.8"/><circle cx="1690" cy="789" r="4.8"/><circle cx="1696.5" cy="771" r="4.8"/><circle cx="1692.3" cy="795.3" r="4.8"/><circle cx="1679.1" cy="799.6" r="4.8"/><circle cx="1684.6" cy="806.4" r="4.8"/></g>
<g fill="#f1c40f"><circle cx="1337.9" cy="495.8" r="4.7"/><circle cx="1506.2" cy="495.6" r="4.7"/><circle cx="1523.1" cy="519.6" r="4.7"/><circle cx="1604.9" cy="408.4" r="4.7"/><circle cx="1701.9" cy="408.2" r="4.7"/><circle cx="1692.3" cy="447.7" r="4.7"/><circle cx="1658.6" cy="460.7" r="4.7"/><circle cx="1642.5" cy="486.7" r="4.7"/><circle cx="1693" cy="497.7" r="4.7"/><circle cx="1664.6" cy="517.2" r="4.7"/><circle cx="1399.3" cy="574.8" r="4.7"/><circle cx="1426.8" cy="609.4" r="4.7"/><circle cx="1639.3" cy="539.1" r="4.7"/></g>
<circle cx="1543.4" cy="483.4" r="9.4" fill="#111" stroke="#0a0a0a" stroke-width="2.3"/>
<circle cx="1535.4" cy="377.8" r="9.4" fill="#f1c40f" stroke="#0a0a0a" stroke-width="2.3"/>
<circle cx="1582.8" cy="459.5" r="9.4" fill="#f1c40f" stroke="#0a0a0a" stroke-width="2.3"/>
<circle cx="1543.8" cy="485" r="9.4" fill="#f1c40f" stroke="#0a0a0a" stroke-width="2.3"/>
<circle cx="1542.6" cy="510" r="9.4" fill="#f1c40f" stroke="#0a0a0a" stroke-width="2.3"/>
<circle cx="1495.6" cy="525.2" r="9.4" fill="#f1c40f" stroke="#0a0a0a" stroke-width="2.3"/>
<circle cx="1495.6" cy="535.3" r="9.4" fill="#f1c40f" stroke="#0a0a0a" stroke-width="2.3"/>
<circle cx="1573.1" cy="529" r="9.4" fill="#f1c40f" stroke="#0a0a0a" stroke-width="2.3"/>
<circle cx="1644.5" cy="528" r="9.4" fill="#f1c40f" stroke="#0a0a0a" stroke-width="2.3"/>
<circle cx="1617" cy="553.6" r="9.4" fill="#f1c40f" stroke="#0a0a0a" stroke-width="2.3"/>
</g>
<g font-family="Liberation Sans, sans-serif" font-size="14.65" fill="#222">
<rect x="1274.4" y="754.4" width="132" height="137.6" fill="#fff" stroke="#444" stroke-width="1.2"/>
<text x="1340" y="770.4" text-anchor="middle">Air Quality Index</text>
<circle cx="1287" cy="788.1" r="5.9" fill="#8b3a3a" stroke="#111" stroke-width="1.5"/>
<text x="1300.3" y="792.7">Hazardous</text>
<circle cx="1287" cy="805.4" r="5.9" fill="#9b59b6" stroke="#111" stroke-width="1.5"/>
<text x="1300.3" y="810.0">Very Unhealthy</text>
<circle cx="1287" cy="822.7" r="5.9" fill="#e74c3c" stroke="#111" stroke-width="1.5"/>
<text x="1300.3" y="827.3">Unhealthy</text>
<circle cx="1287" cy="840.0" r="5.9" fill="#e67e22" stroke="#111" stroke-width="1.5"/>
<text x="1300.3" y="844.6">USG</text>
<circle cx="1287" cy="857.3" r="5.9" fill="#f1c40f" stroke="#111" stroke-width="1.5"/>
<text x="1300.3" y="861.9">Moderate</text>
<circle cx="1287" cy="874.6" r="5.9" fill="#2ecc71" stroke="#111" stroke-width="1.5"/>
<text x="1300.3" y="879.2">Good</text>
<rect x="1449.6" y="797.2" width="102.8" height="51.6" fill="#fff" stroke="#444" stroke-width="1.2"/>
<circle cx="1462.4" cy="813.9" r="6.6" fill="none" stroke="#111" stroke-width="1.6"/>
<polygon points="1462.4,824 1469.2,835.7 1455.6,835.7" fill="none" stroke="#111" stroke-width="1.6"/>
<text x="1475" y="819.8">temporary</text>
<text x="1475" y="836.3">permanent</text>
</g>
</svg>
<svg id="logos" width="1920" height="270" viewBox="0 0 1920 270" style="position:absolute;left:0;top:0">
<defs>
  <path id="fsTop" d="M 77.8,110 A 157.5,157.5 0 0 1 231.2,110"/>
  <path id="fsBot" d="M 68.3,176 C 68.4,176.8 68.5,178.1 68.7,180.9 C 68.9,183.7 68.8,188.9 69.4,192.6 C 70.1,196.3 71.2,199.7 72.6,202.9 C 74.0,206.1 75.8,209.4 77.8,212.0 C 79.8,214.6 82.4,216.8 84.9,218.5 C 87.4,220.2 89.8,221.2 92.7,222.4 C 95.6,223.6 97.8,224.5 102.4,225.6 C 107.1,226.7 115.8,228.2 120.6,228.8 C 125.3,229.5 125.2,229.4 130.9,229.5 C 136.6,229.6 146.6,229.6 154.5,229.6 C 162.4,229.6 172.4,229.6 178.1,229.5 C 183.8,229.4 183.7,229.5 188.4,228.8 C 193.2,228.2 201.9,226.7 206.6,225.6 C 211.2,224.5 213.4,223.6 216.3,222.4 C 219.2,221.2 221.6,220.2 224.1,218.5 C 226.6,216.8 229.1,214.6 231.2,212.0 C 233.2,209.4 235.0,206.1 236.4,202.9 C 237.8,199.7 238.9,196.3 239.6,192.6 C 240.2,188.9 240.1,183.7 240.3,180.9 C 240.5,178.1 240.6,176.8 240.7,176.0"/>
  <path id="wfTop" d="M 1680.7,156 A 84.5,84.5 0 0 1 1849.7,156"/>
  <path id="wfBot" d="M 1668.2,156 A 97,97 0 0 0 1862.2,156"/>
  <clipPath id="wfClip"><circle cx="1765.2" cy="156" r="75.4"/></clipPath>
</defs>
<!-- Forest Service shield -->
<g>
  <path d="M 83.2,53.2 C 110,57 138,61.3 154.5,61.3 C 171.0,61.3 199.0,57 225.8,53.2 L 254.7,88.4 C 253.3,91.6 248.3,102.0 246.2,107.3 C 244.1,112.6 243.0,115.7 242.2,120.0 C 241.4,124.3 241.0,127.6 241.6,133.0 C 242.2,138.4 243.8,145.9 245.5,152.4 C 247.2,158.9 250.2,166.0 251.9,171.8 C 253.6,177.6 255.2,182.2 255.8,187.4 C 256.4,192.6 256.5,197.7 255.2,202.9 C 253.9,208.1 251.3,214.4 248.0,218.5 C 244.7,222.6 241.6,224.5 235.1,227.5 C 228.6,230.5 217.8,234.2 209.2,236.6 C 200.6,239.0 190.2,240.1 183.3,241.8 C 176.4,243.5 172.5,244.5 167.7,247.0 C 162.9,249.5 156.7,255.0 154.5,256.6 C 152.3,255.0 146.1,249.5 141.3,247.0 C 136.5,244.5 132.6,243.5 125.7,241.8 C 118.8,240.1 108.4,239.0 99.8,236.6 C 91.2,234.2 80.4,230.5 73.9,227.5 C 67.4,224.5 64.3,222.6 61.0,218.5 C 57.6,214.4 55.1,208.1 53.8,202.9 C 52.5,197.7 52.7,192.6 53.2,187.4 C 53.8,182.2 55.4,177.6 57.1,171.8 C 58.8,166.0 61.8,158.9 63.5,152.4 C 65.2,145.9 66.9,138.4 67.4,133.0 C 68.0,127.6 67.6,124.3 66.8,120.0 C 66.0,115.7 64.9,112.6 62.8,107.3 C 60.7,102.0 55.7,91.6 54.3,88.4 Z" fill="#e6d55b" stroke="#163d1d" stroke-width="1"/>
  <path d="M 86.1,60.2 C 112,63.8 138,67.9 154.5,67.9 C 171.0,67.9 197.0,63.8 222.9,60.2 L 246.9,89.5 C 245.6,92.5 240.8,102.2 238.8,107.3 C 236.8,112.4 235.8,115.7 235.1,120.0 C 234.4,124.3 234.0,127.6 234.4,133.0 C 234.8,138.4 236.1,145.9 237.7,152.4 C 239.3,158.9 242.4,166.0 244.2,171.8 C 246.0,177.6 248.1,182.7 248.7,187.4 C 249.3,192.2 249.2,196.0 248.0,200.3 C 246.8,204.6 244.8,209.6 241.6,213.3 C 238.4,217.0 234.4,219.6 228.6,222.4 C 222.8,225.2 214.6,227.9 206.6,230.1 C 198.6,232.2 187.4,233.6 180.7,235.3 C 174.0,237.0 170.8,238.3 166.4,240.5 C 162.0,242.7 156.5,247.2 154.5,248.6 C 152.5,247.2 147.0,242.7 142.6,240.5 C 138.2,238.3 135.0,237.0 128.3,235.3 C 121.6,233.6 110.4,232.2 102.4,230.1 C 94.4,227.9 86.2,225.2 80.4,222.4 C 74.6,219.6 70.6,217.0 67.4,213.3 C 64.2,209.6 62.2,204.6 61.0,200.3 C 59.8,196.0 59.7,192.2 60.3,187.4 C 60.9,182.7 63.0,177.6 64.8,171.8 C 66.6,166.0 69.7,158.9 71.3,152.4 C 72.9,145.9 74.2,138.4 74.6,133.0 C 75.0,127.6 74.6,124.3 73.9,120.0 C 73.2,115.7 72.2,112.4 70.2,107.3 C 68.2,102.2 63.5,92.5 62.1,89.5 Z" fill="#12401f"/>
  <g fill="#e6d55b" font-family="Liberation Sans, sans-serif" font-weight="bold">
    <text font-size="19.800" font-style="italic"><textPath href="#fsTop" startOffset="5" textLength="150" lengthAdjust="spacingAndGlyphs">FOREST SERVICE</textPath></text>
    <text font-size="12.200" letter-spacing="1.3"><textPath href="#fsBot" startOffset="50%" text-anchor="middle">DEPARTMENT OF AGRICULTURE</textPath></text>
  </g>
  <g fill="#e6d55b" stroke="#e6d55b" stroke-width="1.8" stroke-linejoin="round" font-family="DejaVu Serif, serif" font-weight="bold" font-size="88">
    <text x="84.2" y="180.5" textLength="43.5" lengthAdjust="spacingAndGlyphs">U</text>
    <text x="188.7" y="180.5" textLength="40.5" lengthAdjust="spacingAndGlyphs">S</text>
  </g>
  <!-- tree -->
  <path fill="#e6d55b" d="M 155.600,99 L 159.500,108 L 162,110.500 L 160.800,112 L 165.500,121 L 163.500,122.500 L 168.500,131 L 171.500,133 L 169,135 L 173.500,143 L 177,146 L 174,148 L 178.500,156 L 181,158.500 L 177.500,160 L 181.500,167 L 185,170.500 L 182,172 L 184.500,177.400 L 181,180 L 178,177.500 L 175,180.500 L 171,177.500 L 167,180 L 163,177 L 160,179.500 L 160,197 L 175.400,202.900 L 175.400,203.500 L 132.600,203.500 L 132.600,202.900 L 151,197 L 151,179.500 L 148,177 L 144,180 L 140,177.500 L 136,180.500 L 133,177.500 L 130,180 L 127.500,179.400 L 130,172 L 127,170.500 L 131.500,166 L 135,160 L 132,158.500 L 135,155 L 139,148 L 136,146 L 139.500,142 L 142.500,135 L 140,133 L 143.500,130 L 147.500,122.500 L 145.500,121 L 150,112 L 148.800,110.500 L 151.500,108 Z"/>
</g>
<!-- WFAQRP logo -->
<g>
  <circle cx="1765.2" cy="156" r="104.4" fill="#a6c8ea" stroke="#33475c" stroke-width="1"/>
  <circle cx="1765.2" cy="156" r="75.9" fill="#fff" stroke="#33475c" stroke-width="1"/>
  <g clip-path="url(#wfClip)">
    <path d="M 1733.300,103.900 L 1733.700,97.500 L 1740.100,95.400 L 1767.800,100.700 L 1789.100,98.600 L 1810.400,94.900 L 1817.800,97.500 L 1831.700,118.800 L 1845,140 L 1834.800,133.700 L 1829.500,128.400 L 1821,135.800 L 1814.600,134.800 L 1806.100,125.200 L 1797.600,122 L 1789.100,126.200 L 1778.400,128.400 L 1767.800,125.200 L 1757.100,123 L 1748.600,127.300 L 1740.100,134.800 L 1736.900,131.600 L 1734.800,120.900 L 1735.800,110.300 Z" fill="#bfc0c2" stroke="#bfc0c2" stroke-width="1.500" stroke-linejoin="round"/>
    <g fill="none" stroke="#111" stroke-width="1.300" stroke-linejoin="miter">
      <polyline points="1693.2,181.6 1729.4,120.9 1746.5,148.6"/>
      <polyline points="1725.2,186.3 1756.1,134.8 1784.8,176.3"/>
      <polyline points="1778.4,186.3 1809.3,143.3 1837,178.4"/>
      <line x1="1695.800" y1="186.3" x2="1834.800" y2="186.3"/>
      <line x1="1707.700" y1="204" x2="1823.100" y2="204"/>
    </g>
    <polygon points="1729.4,128.4 1732.6,126.2 1739,136.9 1735.4,139.4" fill="#e02222"/>
  </g>
  <g fill="#151515" font-family="Liberation Sans, sans-serif" font-size="16.500">
    <text letter-spacing="-0.15" font-size="16.300"><textPath href="#wfTop" startOffset="50.700%" text-anchor="middle">WILDLAND FIRE • AIR QUALITY</textPath></text>
    <text letter-spacing="0.6"><textPath href="#wfBot" startOffset="50%" text-anchor="middle">RESPONSE PROGRAM</textPath></text>
  </g>
</g>
</svg>

</body>
</html>
